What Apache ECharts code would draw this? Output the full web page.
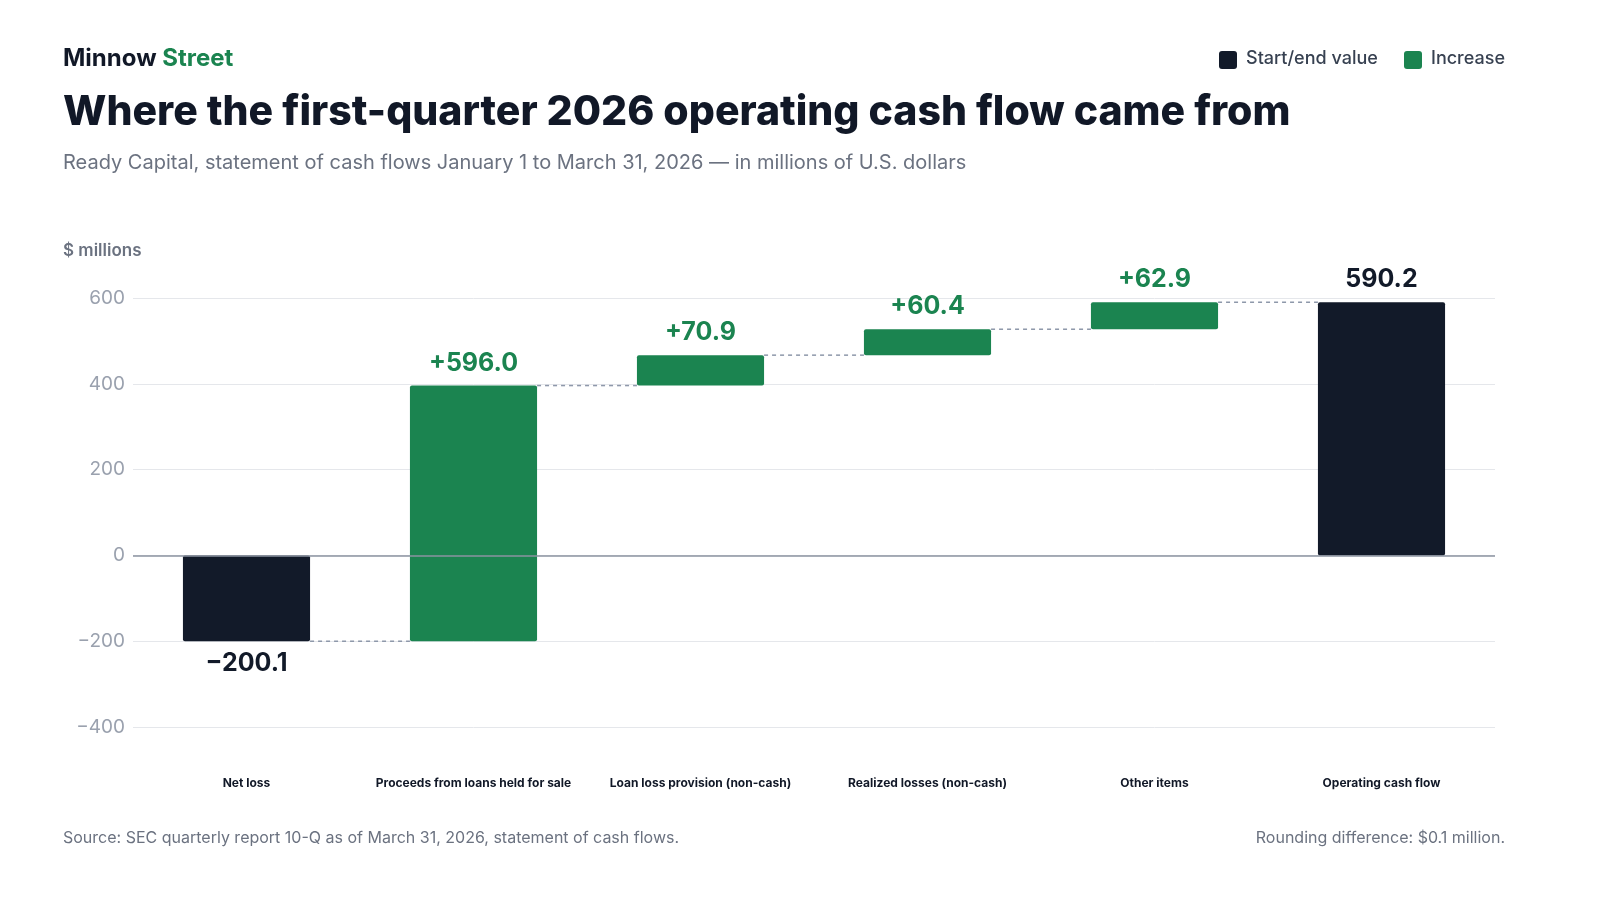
<!DOCTYPE html>
<html><head><meta charset="utf-8">
<script src="https://cdn.jsdelivr.net/npm/echarts@6/dist/echarts.min.js"></script>
<style>html,body{margin:0;padding:0;background:#fff}#c{width:1600px;height:900px}</style>
</head><body><div id="c"></div>
<script>
const categories = ['Net loss','Proceeds from loans held for sale','Loan loss provision (non-cash)','Realized losses (non-cash)','Other items','Operating cash flow'];
const changes = [-200.1, 596.0, 70.9, 60.4, 62.9, 590.2];
const kinds = ['total','inc','inc','inc','inc','total'];
const yTicks = [-400,-200,0,200,400,600];

const DARK='#121a29', GREEN='#1b8450';
let run=0; const data=[];
changes.forEach((v,i)=>{
  let lo,hi;
  if(kinds[i]==='total'){ lo=Math.min(0,v); hi=Math.max(0,v); run=v; }
  else { lo=run; hi=run+v; run=hi; }
  data.push([i,lo,hi,v,kinds[i]]);
});
const ends = data.map(d=> d[3]<0 ? d[1] : d[2]);

const chart = echarts.init(document.getElementById('c'));
chart.setOption({
  animation:false,
  grid:{left:133,right:105,top:298,bottom:173},
  xAxis:{type:'category',data:categories,axisTick:{show:false},axisLine:{show:false},
    axisLabel:{interval:0,color:'#111827',fontSize:12,fontWeight:'bold',fontFamily:'Inter',margin:50}},
  yAxis:{type:'value',min:-400,max:600,interval:200,
    axisLabel:{color:'#9aa1ae',fontSize:19,fontFamily:'Inter',margin:8,
      formatter:v=>v<0?'\u2212'+Math.abs(v):String(v)},
    splitLine:{lineStyle:{color:'#e5e7eb'}}},
  series:[{
    type:'custom',
    data:data,
    renderItem:(params,api)=>{
      const i=api.value(0), lo=api.value(1), hi=api.value(2), v=api.value(3);
      const kind=data[params.dataIndex][4];
      const w=api.size([1,0])[0]*0.56;
      const pTop=api.coord([i,hi]), pBot=api.coord([i,lo]);
      const x=pTop[0]-w/2;
      const children=[{type:'rect',shape:{x:x,y:pTop[1],width:w,height:pBot[1]-pTop[1],r:2},
        style:{fill:kind==='total'?DARK:GREEN}}];
      const txt=(v<0?'\u2212'+Math.abs(v).toFixed(1):(kind==='inc'?'+':'')+v.toFixed(1));
      children.push({type:'text',style:{text:txt,x:pTop[0],y:v<0?pBot[1]+10:pTop[1]-10,
        align:'center',verticalAlign:v<0?'top':'bottom',
        fill:kind==='total'?DARK:GREEN,font:'bold 25px Inter'}});
      if(params.dataIndex<data.length-1){
        const lv=ends[params.dataIndex];
        const p=api.coord([i,lv]), q=api.coord([i+1,lv]);
        children.push({type:'line',shape:{x1:p[0]+w/2,y1:p[1],x2:q[0]-w/2,y2:q[1]},
          style:{stroke:'#8e98aa',lineWidth:1.5,lineDash:[4,4]}});
      }
      return {type:'group',children};
    }
  },{
    type:'line',data:[],markLine:{silent:true,symbol:'none',label:{show:false},
      lineStyle:{color:'#8b93a1',width:1.5,type:'solid'},data:[{yAxis:0}]}
  }],
  graphic:[
    {type:'text',left:63,top:47,style:{rich:{a:{fill:'#111827',font:'bold 24px Inter'},b:{fill:GREEN,font:'bold 24px Inter'}},text:'{a|Minnow }{b|Street}'}},
    {type:'text',left:63,top:92,style:{text:'Where the first-quarter 2026 operating cash flow came from',fill:'#111827',font:'800 41px Inter'}},
    {type:'text',left:63,top:153,style:{text:'Ready Capital, statement of cash flows January 1 to March 31, 2026 \u2014 in millions of U.S. dollars',fill:'#6b7280',font:'20px Inter'}},
    {type:'text',left:63,top:242,style:{text:'$ millions',fill:'#6b7280',font:'600 17px Inter'}},
    {type:'rect',left:1219,top:51,shape:{width:18,height:18,r:3},style:{fill:DARK}},
    {type:'text',left:1246,top:50,style:{text:'Start/end value',fill:'#374151',font:'500 18px Inter'}},
    {type:'rect',left:1404,top:51,shape:{width:18,height:18,r:3},style:{fill:GREEN}},
    {type:'text',left:1431,top:50,style:{text:'Increase',fill:'#374151',font:'500 18px Inter'}},
    {type:'text',left:63,top:830,style:{text:'Source: SEC quarterly report 10-Q as of March 31, 2026, statement of cash flows.',fill:'#6b7280',font:'16px Inter'}},
    {type:'text',right:95,top:830,style:{text:'Rounding difference: $0.1 million.',fill:'#6b7280',font:'16px Inter',align:'right'}}
  ]
});
</script></body></html>
